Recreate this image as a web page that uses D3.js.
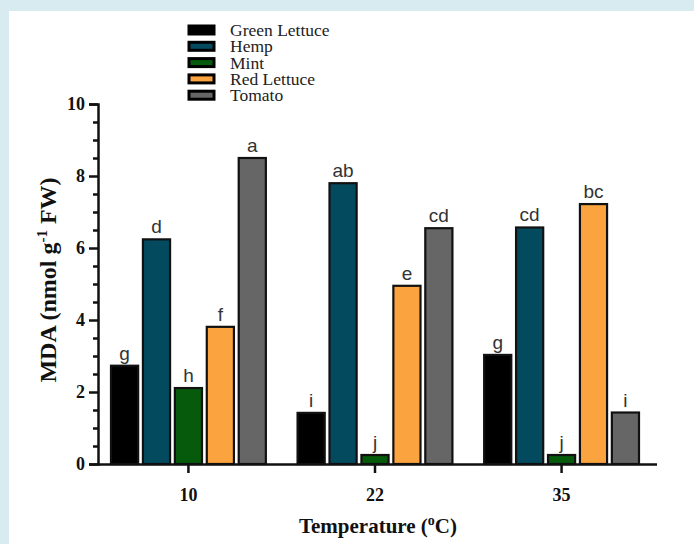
<!DOCTYPE html>
<html lang="en">
<head>
<meta charset="UTF-8">
<title>MDA by temperature</title>
<script src="https://d3js.org/d3.v7.min.js"></script>
<style>
  body { margin: 0; background: #d7ebf1; }
  #chart { position: absolute; left: 9px; top: 11px; }
</style>
</head>
<body>
<div id="chart"></div>
<script>
const temps = ["10", "22", "35"];
const crops = ["Green Lettuce", "Hemp", "Mint", "Red Lettuce", "Tomato"];
const colors = ["#000000", "#034a5f", "#055a0b", "#fba43f", "#666666"];
// MDA values per crop, in order of temps
const greenLettuce = [2.73, 1.42, 3.03];
const hemp = [6.24, 7.8, 6.57];
const mint = [2.11, 0.25, 0.25];
const redLettuce = [3.81, 4.95, 7.22];
const tomato = [8.5, 6.55, 1.43];
// significance letters
const lettersGL = ["g", "i", "g"];
const lettersHemp = ["d", "ab", "cd"];
const lettersMint = ["h", "j", "j"];
const lettersRL = ["f", "e", "bc"];
const lettersTom = ["a", "cd", "i"];
const yTicks = [0, 2, 4, 6, 8, 10];

const values = [greenLettuce, hemp, mint, redLettuce, tomato];
const letters = [lettersGL, lettersHemp, lettersMint, lettersRL, lettersTom];

const W = 685, H = 533;
const ox = 9, oy = 11; // offset of the white panel in the page
const svg = d3.select("#chart").append("svg")
  .attr("width", W).attr("height", H)
  .style("background", "#fff");

const g = svg.append("g").attr("transform", `translate(${-ox},${-oy})`);

const pLeft = 98, pRight = 657, pTop = 104, pBottom = 464;

const x0 = d3.scaleBand().domain(temps).range([111, 639]).paddingInner(0.17).paddingOuter(0);
const x1 = d3.scaleBand().domain(crops).range([0, x0.bandwidth()]).paddingInner(0.15);
const y = d3.scaleLinear().domain([0, 10]).range([pBottom, pTop]);

const rows = [];
temps.forEach((t, i) => crops.forEach((c, j) => rows.push({ t, c, j, v: values[j][i], l: letters[j][i] })));

g.selectAll("rect.bar").data(rows).enter().append("rect")
  .attr("class", "bar")
  .attr("x", d => x0(d.t) + x1(d.c))
  .attr("y", d => y(d.v))
  .attr("width", x1.bandwidth())
  .attr("height", d => y(0) - y(d.v))
  .attr("fill", d => colors[d.j])
  .attr("stroke", "#111")
  .attr("stroke-width", 2.2);

g.selectAll("text.lab").data(rows).enter().append("text")
  .attr("class", "lab")
  .attr("x", d => x0(d.t) + x1(d.c) + x1.bandwidth() / 2)
  .attr("y", d => y(d.v) - 6)
  .attr("text-anchor", "middle")
  .attr("font-family", "Liberation Sans, Arial, sans-serif")
  .attr("font-size", 19)
  .attr("fill", "#333")
  .text(d => d.l);

// y axis
const yAxis = g.append("g").attr("transform", `translate(${pLeft},0)`)
  .call(d3.axisLeft(y).tickValues(yTicks).tickSize(9).tickFormat(d3.format("d")));
g.append("g").attr("transform", `translate(${pLeft},0)`)
  .call(d3.axisLeft(y).tickValues(d3.range(0, 10.01, 0.5).filter(v => v % 2 !== 0)).tickSize(5).tickFormat(""))
  .call(a => a.select(".domain").remove());

// x axis
const xAxis = g.append("g").attr("transform", `translate(0,${pBottom})`)
  .call(d3.axisBottom(x0).tickSize(9).tickSizeOuter(0));
xAxis.select(".domain").attr("d", `M${pLeft},0.5H${pRight}`);

g.selectAll(".tick line, .domain").attr("stroke", "#111").attr("stroke-width", 2.5);
g.selectAll(".tick text")
  .attr("font-family", "Liberation Serif, Times New Roman, serif")
  .attr("font-weight", "bold")
  .attr("font-size", 18)
  .attr("fill", "#111");
yAxis.selectAll(".tick text").attr("x", -13);
xAxis.selectAll(".tick text").attr("y", 24);

// axis titles
const xt = g.append("text")
  .attr("x", 378).attr("y", 533)
  .attr("text-anchor", "middle")
  .attr("font-family", "Liberation Serif, Times New Roman, serif")
  .attr("font-weight", "bold").attr("font-size", 21).attr("fill", "#111");
xt.append("tspan").text("Temperature (");
xt.append("tspan").attr("font-size", 14).attr("dy", -8).text("o");
xt.append("tspan").attr("dy", 8).text("C)");

const yt = g.append("text")
  .attr("transform", `translate(56,280) rotate(-90)`)
  .attr("text-anchor", "middle")
  .attr("font-family", "Liberation Serif, Times New Roman, serif")
  .attr("font-weight", "bold").attr("font-size", 24).attr("fill", "#111");
yt.append("tspan").text("MDA (nmol g");
yt.append("tspan").attr("font-size", 15).attr("dy", -9).text("-1");
yt.append("tspan").attr("dy", 9).text(" FW)");

// legend
const lg = g.append("g").selectAll("g").data(crops).enter().append("g")
  .attr("transform", (d, i) => `translate(188,${30 + i * 16.3})`);
lg.append("rect")
  .attr("x", 1).attr("y", -4).attr("width", 25).attr("height", 8)
  .attr("fill", (d, i) => colors[i]).attr("stroke", "#000").attr("stroke-width", 3);
lg.append("text")
  .attr("x", 42).attr("y", 6)
  .attr("font-family", "Liberation Serif, Times New Roman, serif")
  .attr("font-size", 17.5).attr("fill", "#222")
  .text(d => d);
</script>
</body>
</html>
